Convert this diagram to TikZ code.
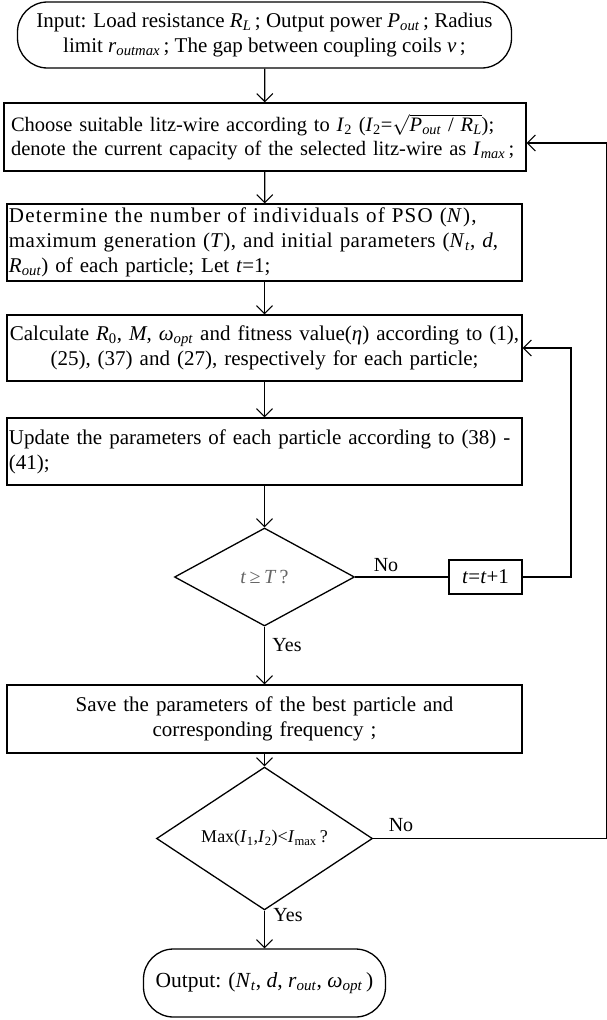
\documentclass[tikz,border=0pt]{standalone}
\usepackage{fontspec}
\setmainfont{Liberation Serif}
\usetikzlibrary{arrows.meta,shapes.geometric}
\newcommand{\vi}[1]{\textit{#1}}
\newcommand{\vs}[2]{\textit{#1}\textsubscript{\textit{#2}}}
\begin{document}
\begin{tikzpicture}[x=1pt,y=-1pt,
  font=\fontsize{21}{25}\selectfont,
  line width=1.3pt,
  arr/.style={-{Straight Barb[length=8pt,width=16pt,line width=1.1pt]}},
  proc/.style={draw, rectangle, inner xsep=2pt, inner ysep=0pt, text width=511pt, minimum height=#1},
  term/.style={draw, rectangle, rounded corners=30pt, inner sep=0pt, align=center},
  dec/.style={draw, diamond, inner sep=0pt, font=\fontsize{18}{22}\selectfont},
  lab/.style={inner sep=0pt, font=\fontsize{20}{24}\selectfont}
]
\useasboundingbox (0,0) rectangle (606,1020);

\node[term, minimum width=494pt, minimum height=66pt] (in) at (264.5,35)
  {Input: Load resistance \vs{R}{L}\,; Output power \vs{P}{out}\,; Radius\\
   limit \vs{r}{outmax}\,; The gap between coupling coils \vi{v}\,;};

\node[proc=68pt, inner xsep=7pt, text width=508pt, align=left, font=\fontsize{20.5}{24}\selectfont] (b2) at (265,137)
  {\makebox[508pt][s]{Choose suitable litz-wire according to \vi{I}\textsubscript{2} (\vi{I}\textsubscript{2}=$\sqrt{\hbox{\vs{P}{out} / \vs{R}{L}}}$);}\\
   \makebox[508pt][s]{denote the current capacity of the selected litz-wire as \vs{I}{max}\,;}};

\node[proc=77pt, align=left] (b3) at (264.5,242.5)
  {\makebox[511pt][s]{\addfontfeature{LetterSpace=6}Determine the number of individuals of PSO (\vi{N}),}\\
   \makebox[511pt][s]{\addfontfeature{LetterSpace=2}maximum generation (\vi{T}), and initial parameters (\vs{N}{t}, \vi{d},}\\
   \vs{R}{out}) of each particle; Let \vi{t}=1;};

\node[proc=66pt, align=center] (b4) at (264.5,348)
  {Calculate \vi{R}\textsubscript{0}, \vi{M}, \vs{ω}{opt} and fitness value(\vi{η}) according to (1),\\
   (25), (37) and (27), respectively for each particle;};

\node[proc=67pt, align=left] (b5) at (264.5,451.5)
  {Update the parameters of each particle according to (38) -\\
   (41);};

\node[dec, minimum width=180pt, minimum height=98pt, font=\fontsize{20}{24}\selectfont] (d1) at (264.5,577)
  {\textcolor{black!60}{\vi{t}\,≥\,\vi{T}\,?}};

\node[draw, rectangle, inner sep=0pt, minimum width=73pt, minimum height=34pt] (bt) at (485.5,577)
  {\vi{t}=\vi{t}+1};

\node[proc=68pt, align=center] (b6) at (264.5,719)
  {Save the parameters of the best particle and\\
   corresponding frequency ;};

\node[dec, minimum width=216pt, minimum height=113pt] (d2) at (264.5,838.5)
  {Max(\vi{I}\textsubscript{1},\vi{I}\textsubscript{2})<\vi{I}\textsubscript{max}\,?};

\node[term, minimum width=242pt, minimum height=68pt, font=\fontsize{21.5}{25}\selectfont] (out) at (264.5,983)
  {Output: (\vs{N}{t}, \vi{d}, \vs{r}{out}, \vs{ω}{opt}\,)};

\coordinate (c1) at (571,577);
\coordinate (c2) at (606.8,838.5);

\draw[arr] (in) -- (b2);
\draw[arr] (b2) -- (b3);
\draw[arr] (b3) -- (b4);
\draw[arr] (b4) -- (b5);
\draw[arr] (b5) -- (d1);
\draw[arr] (d1) -- (b6);
\draw[arr] (b6) -- (d2);
\draw[arr] (d2) -- (out);
\draw (d1.east) -- (bt.west);
\draw[arr] (bt.east) -- (c1) |- (b4.east);
\draw[arr] (d2.east) -- (c2) |- ([yshift=-6pt]b2.east);

\node[lab] (no1) at (386,565) {No};
\node[lab] (yes1) at (287,645) {Yes};
\node[lab] (no2) at (401,825) {No};
\node[lab] (yes2) at (288,915) {Yes};
\end{tikzpicture}
\end{document}
